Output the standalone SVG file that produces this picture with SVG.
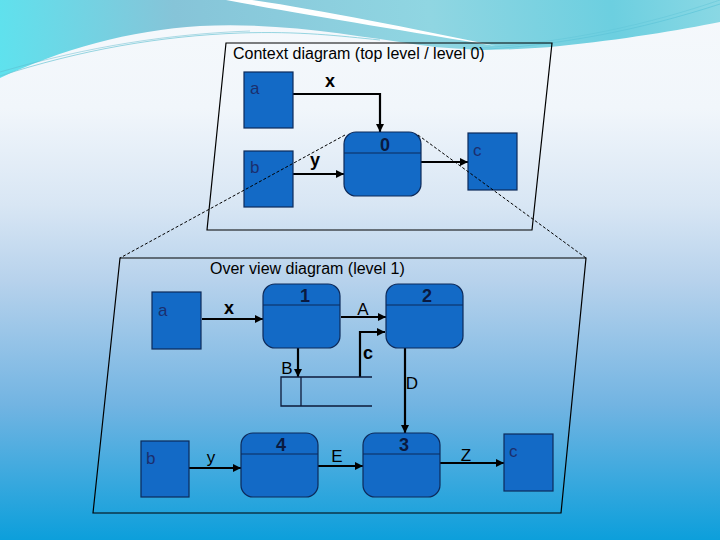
<svg xmlns="http://www.w3.org/2000/svg" width="720" height="540" viewBox="0 0 720 540">
<defs>
<linearGradient id="bg" x1="0" y1="0" x2="0" y2="1">
<stop offset="0" stop-color="#f6f9fc"/>
<stop offset="0.2" stop-color="#f1f6fb"/>
<stop offset="0.38" stop-color="#d8e6f4"/>
<stop offset="0.52" stop-color="#b7d2ec"/>
<stop offset="0.75" stop-color="#72b4e2"/>
<stop offset="1" stop-color="#0c9fdb"/>
</linearGradient>
<linearGradient id="teal" gradientUnits="userSpaceOnUse" x1="0" y1="80" x2="720" y2="0">
<stop offset="0" stop-color="#5ee2ee"/>
<stop offset="0.25" stop-color="#86c4d8"/>
<stop offset="0.6" stop-color="#90d6e2"/>
<stop offset="0.85" stop-color="#6ccfe0"/>
<stop offset="1" stop-color="#8ad8e4"/>
</linearGradient>
<marker id="arr" viewBox="0 0 10 10" refX="10" refY="5" markerWidth="9" markerHeight="8" markerUnits="userSpaceOnUse" orient="auto">
<path d="M0,0 L10,5 L0,10 z" fill="#000"/>
</marker>
<style>
.frame{fill:none;stroke:#000;stroke-width:1.2}
.dash{fill:none;stroke:#000;stroke-width:1;stroke-dasharray:3,2}
.ent{fill:#136ac6;stroke:#0d2a5a;stroke-width:1.2}
.proc{fill:#136ac6;stroke:#0d2a5a;stroke-width:1.2}
.div{stroke:#0d2a5a;stroke-width:1.2}
.con{fill:none;stroke:#000;stroke-width:2.2;marker-end:url(#arr)}
.store{fill:none;stroke:#0d1a3a;stroke-width:1.3}
.title{font-family:"Liberation Sans",Arial,sans-serif;font-size:16px;fill:#000}
.elab{font-family:"Liberation Sans",Arial,sans-serif;font-size:17px;fill:#1b2f6e}
.plab{font-family:"Liberation Sans",Arial,sans-serif;font-size:18px;font-weight:bold;fill:#0a1a40;text-anchor:middle}
.clab{font-family:"Liberation Sans",Arial,sans-serif;font-size:17px;fill:#000;text-anchor:middle}
.clabb{font-family:"Liberation Sans",Arial,sans-serif;font-size:18px;font-weight:bold;fill:#000;text-anchor:middle}
</style>
</defs>

<g id="background">
<rect width="720" height="540" fill="url(#bg)"/>
<path d="M0,0 H720 V22 C680,30 620,40 560,46 C520,50 470,52 420,45 C350,35 280,22 200,26 C130,30 60,50 0,78 Z" fill="url(#teal)"/>
<path d="M226,0 C300,14 400,30 496,46 C410,28 320,10 252,0 Z" fill="#ffffff"/>
<path d="M0,76 C80,50 160,36 240,33 C300,31 340,36 380,40" fill="none" stroke="#6cc4d4" stroke-width="1" opacity="0.7"/>
<path d="M0,72 C90,46 170,34 250,31" fill="none" stroke="#5ab8ca" stroke-width="0.8" opacity="0.6"/>
<path d="M470,50 C560,46 640,30 720,4" fill="none" stroke="#5ec4d8" stroke-width="1" opacity="0.7"/>
<path d="M480,48 C570,42 650,24 720,0" fill="none" stroke="#5ec4d8" stroke-width="0.8" opacity="0.6"/>
</g>

<g id="frames">
<polygon class="frame" points="226,43 552,43 532,230 207,230"/>
<polygon class="frame" points="120,258 586,258 561,513 93,513"/>
<text class="title" x="233" y="59">Context diagram (top level / level 0)</text>
<text class="title" x="210" y="274">Over view diagram (level 1)</text>
</g>

<g id="connectors">
<path class="con" d="M293,94 H380 V132"/>
<path class="con" d="M293,174 H344"/>
<path class="con" d="M421,162 H468"/>
<path class="con" d="M202,319 H263"/>
<path class="con" d="M341,317 H386"/>
<path class="con" d="M298,348 V377"/>
<path class="con" d="M360,377 V332 H385"/>
<path class="con" d="M405,348 V433"/>
<path class="con" d="M189,468 H241"/>
<path class="con" d="M318,466 H363"/>
<path class="con" d="M440,463 H504"/>
<text class="clabb" x="330" y="87">x</text>
<text class="clabb" x="315" y="166">y</text>
<text class="clabb" x="229" y="314">x</text>
<text class="clab" x="363" y="315">A</text>
<text class="clab" x="287" y="374">B</text>
<text class="clabb" x="368" y="359">c</text>
<text class="clab" x="412" y="389">D</text>
<text class="clab" x="211" y="463">y</text>
<text class="clab" x="337" y="462">E</text>
<text class="clab" x="466" y="461">Z</text>
</g>

<g id="ctx-a"><rect class="ent" x="244" y="72" width="49" height="56"/><text class="elab" x="250" y="94">a</text></g>
<g id="ctx-b"><rect class="ent" x="244" y="151" width="49" height="56"/><text class="elab" x="250" y="173">b</text></g>
<g id="ctx-c"><rect class="ent" x="468" y="133" width="49" height="57"/><text class="elab" x="473" y="156">c</text></g>
<g id="ctx-p0"><rect class="proc" x="344" y="132" width="77" height="64" rx="12"/><line class="div" x1="344" y1="153" x2="421" y2="153"/><text class="plab" x="385" y="151">0</text></g>

<g id="store"><path class="store" d="M372,377 H281 V406 H372"/><line class="store" x1="301" y1="377" x2="301" y2="406"/></g>

<g id="ov-a"><rect class="ent" x="152" y="292" width="49" height="57"/><text class="elab" x="158" y="316">a</text></g>
<g id="ov-b"><rect class="ent" x="141" y="441" width="48" height="56"/><text class="elab" x="146" y="464">b</text></g>
<g id="ov-c"><rect class="ent" x="504" y="434" width="49" height="57"/><text class="elab" x="509" y="457">c</text></g>
<g id="ov-p1"><rect class="proc" x="263" y="284" width="77" height="64" rx="12"/><line class="div" x1="263" y1="305" x2="340" y2="305"/><text class="plab" x="305" y="302">1</text></g>
<g id="ov-p2"><rect class="proc" x="386" y="284" width="77" height="64" rx="12"/><line class="div" x1="386" y1="305" x2="463" y2="305"/><text class="plab" x="427" y="302">2</text></g>
<g id="ov-p4"><rect class="proc" x="241" y="433" width="77" height="64" rx="12"/><line class="div" x1="241" y1="454" x2="318" y2="454"/><text class="plab" x="281" y="451">4</text></g>
<g id="ov-p3"><rect class="proc" x="363" y="433" width="77" height="64" rx="12"/><line class="div" x1="363" y1="454" x2="440" y2="454"/><text class="plab" x="404" y="451">3</text></g>

<g id="zoom-lines">
<line class="dash" x1="345" y1="135" x2="120" y2="258"/>
<line class="dash" x1="418" y1="135" x2="586" y2="258"/>
</g>
</svg>
